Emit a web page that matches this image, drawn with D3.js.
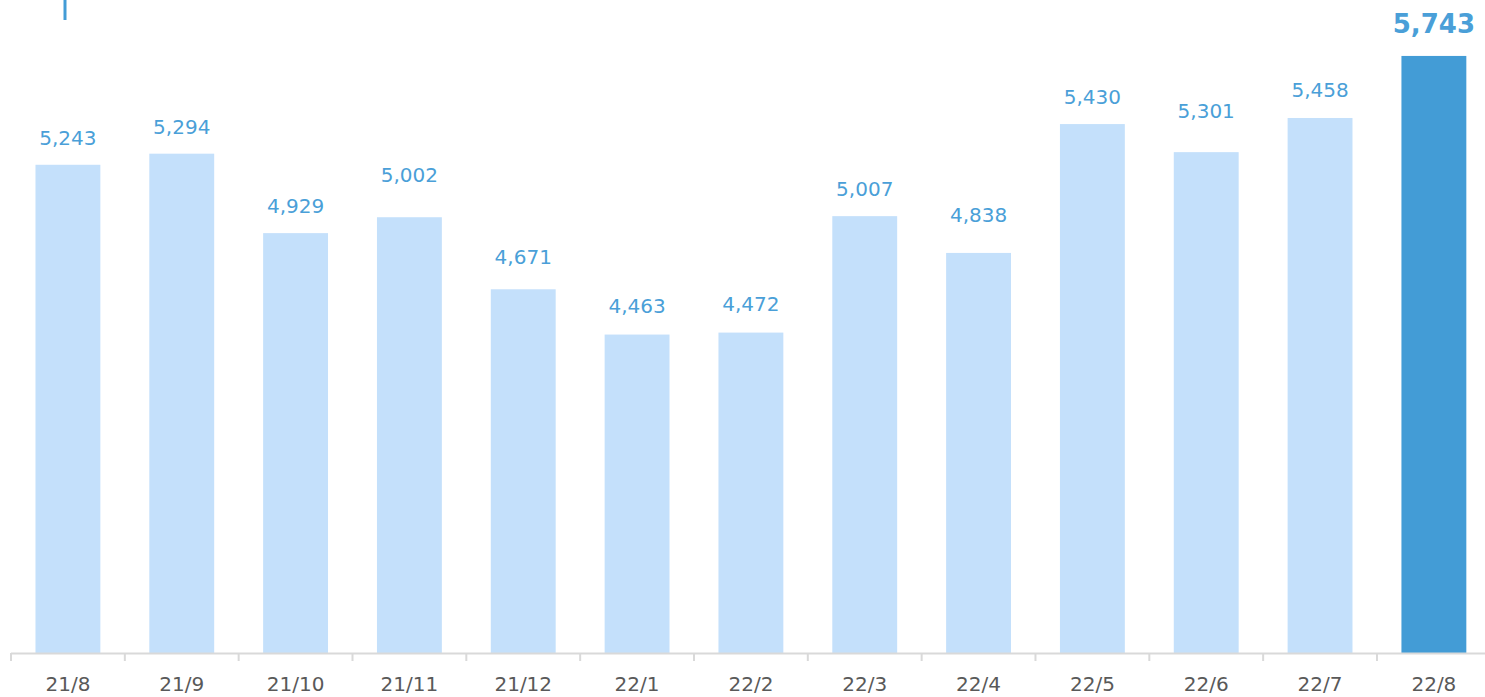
<!DOCTYPE html>
<html>
<head>
<meta charset="utf-8">
<script src="https://cdn.jsdelivr.net/npm/d3@7"></script>
<style>
  body { margin: 0; background: #fff; }
  svg { display: block; }
  text { font-family: Verdana, "DejaVu Sans", sans-serif; }
</style>
</head>
<body>
<div class="draw"></div>
<script>
const width = 1485
const height = 697

// data
const months = ["21/8", "21/9", "21/10", "21/11", "21/12", "22/1", "22/2", "22/3", "22/4", "22/5", "22/6", "22/7", "22/8"]
const values = [5243, 5294, 4929, 5002, 4671, 4463, 4472, 5007, 4838, 5430, 5301, 5458, 5743]
const yDomain = [3000, 6000]

// space between bar top and label baseline (labels were nudged by hand in the original)
const labelGap = [20, 20, 20, 35, 25, 22, 22, 20, 31, 20, 34, 21, 23]

const lightBar = "#c4e0fb"
const darkBar = "#439cd6"
const labelColor = "#4a9fd8"

let svg = d3.select("div.draw")
    .append("svg")
    .attr("width", width)
    .attr("height", height)

let x = d3.scaleBand()
    .domain(months)
    .range([11, 1490.8])
    .paddingInner(0.43)
    .paddingOuter(0.215)

let y = d3.scaleLinear()
    .domain(yDomain)
    .range([653, 0])

const last = months.length - 1

// little marker at top left
svg.append("line")
    .attr("x1", 65).attr("x2", 65)
    .attr("y1", 0).attr("y2", 20)
    .style("stroke", darkBar)
    .style("stroke-width", 3)

svg.selectAll("rect.bar")
    .data(values)
    .enter()
    .append("rect")
    .attr("class", "bar")
    .attr("x", (d, i) => x(months[i]))
    .attr("width", x.bandwidth())
    .attr("y", d => y(d))
    .attr("height", d => y(yDomain[0]) - y(d))
    .style("fill", (d, i) => i === last ? darkBar : lightBar)

svg.selectAll("text.val")
    .data(values)
    .enter()
    .append("text")
    .attr("class", "val")
    .attr("x", (d, i) => x(months[i]) + x.bandwidth() / 2)
    .attr("y", (d, i) => y(d) - labelGap[i])
    .attr("text-anchor", "middle")
    .style("font-size", (d, i) => i === last ? "26px" : "20px")
    .style("font-weight", (d, i) => i === last ? "bold" : "normal")
    .style("fill", labelColor)
    .text(d => d3.format(",")(d))

// x axis
let axis = svg.append("g")
    .attr("transform", "translate(0,653)")
    .call(d3.axisBottom(x).tickSize(0).tickPadding(24))

axis.select(".domain").remove()
axis.append("line")
    .attr("x1", 11).attr("x2", width)
    .attr("y1", 0.5).attr("y2", 0.5)
    .style("stroke", "#d9d9d9")
    .style("stroke-width", 2)

axis.selectAll("line.sep")
    .data(months)
    .enter()
    .append("line")
    .attr("class", "sep")
    .attr("x1", d => x(d) - x.step() * x.paddingInner() / 2)
    .attr("x2", d => x(d) - x.step() * x.paddingInner() / 2)
    .attr("y1", 0).attr("y2", 8)
    .style("stroke", "#d9d9d9")
    .style("stroke-width", 2)

axis.selectAll(".tick text")
    .style("font-size", "20px")
    .style("fill", "#595959")
    .style("font-family", "Verdana, 'DejaVu Sans', sans-serif")
</script>
</body>
</html>
